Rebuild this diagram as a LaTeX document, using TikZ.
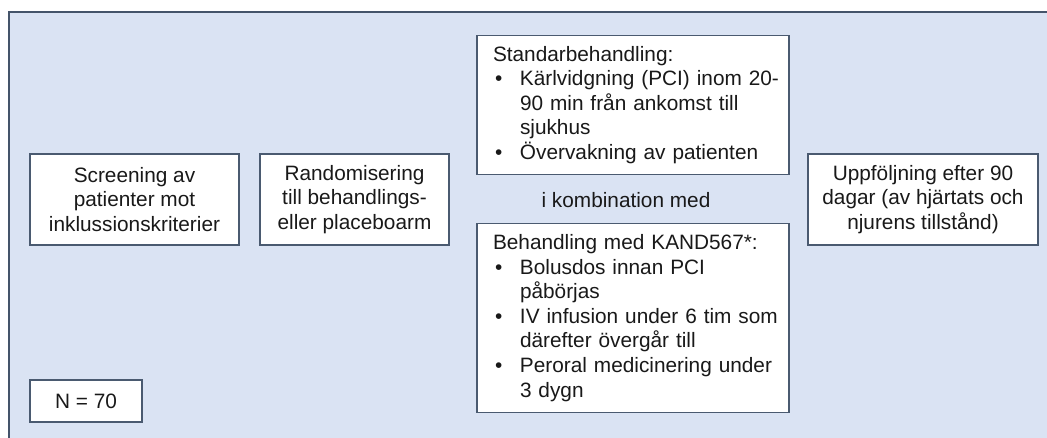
\documentclass[tikz,border=0pt]{standalone}
\usepackage{fontspec}
\setmainfont{Liberation Sans}
\definecolor{panelfill}{HTML}{DAE3F3}
\definecolor{panelline}{HTML}{44546A}
\definecolor{boxline}{HTML}{4A5A70}
\newcommand{\hd}{\hspace*{10pt}}
\newcommand{\blt}{\hspace*{12pt}\makebox[25pt][l]{\textbullet}}
\newcommand{\ind}{\hspace*{37pt}}
\tikzset{
  stepbox/.style={draw=boxline,line width=1.4pt,fill=white,align=center,inner sep=0pt},
  listbox/.style={stepbox,align=left,inner xsep=6pt,text width=300pt,minimum width=312pt}
}
\begin{document}
\begin{tikzpicture}[x=1pt,y=-1pt,every node/.style={font=\fontsize{20.8}{24.6}\selectfont,text=black!90}]
  \useasboundingbox (0,0) rectangle (1047,438);
  % panel
  \draw[fill=panelfill,draw=panelline,line width=2pt] (9,12) rectangle (1060,450);
  % left steps
  \node[stepbox,minimum width=209pt,minimum height=91pt] (screen) at (134.5,199.5) {Screening av\\patienter mot\\inklussionskriterier};
  \node[stepbox,minimum width=189pt,minimum height=91pt] (rand) at (354.5,199.5) {Randomisering\\till behandlings-\\eller placeboarm};
  % treatment arms
  \node[listbox,minimum height=139pt] (std) at (633,105) {\hd Standarbehandling:\\
    \blt Kärlvidgning (PCI) inom 20-\\
    \ind 90 min från ankomst till\\
    \ind sjukhus\\
    \blt Övervakning av patienten};
  \node (komb) at (626,200) {i kombination med};
  \node[listbox,minimum height=189pt] (kand) at (633,318) {\hd Behandling med KAND567*:\\
    \blt Bolusdos innan PCI\\
    \ind påbörjas\\
    \blt IV infusion under 6 tim som\\
    \ind därefter övergår till\\
    \blt Peroral medicinering under\\
    \ind 3 dygn};
  % follow-up
  \node[stepbox,minimum width=230pt,minimum height=91pt] (follow) at (923,199.5) {Uppföljning efter 90\\dagar (av hjärtats och\\njurens tillstånd)};
  \node[stepbox,minimum width=112pt,minimum height=42pt] (count) at (86,401) {N = 70};
\end{tikzpicture}
\end{document}
